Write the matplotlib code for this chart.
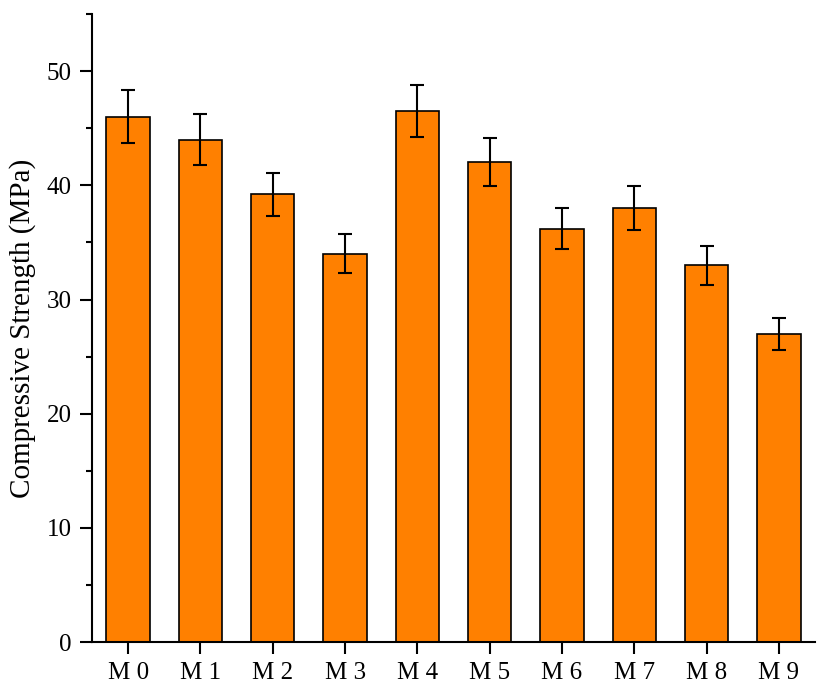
import matplotlib.pyplot as plt
from matplotlib.ticker import MultipleLocator

mixes = ["M 0", "M 1", "M 2", "M 3", "M 4", "M 5", "M 6", "M 7", "M 8", "M 9"]
strength = [46.0, 44.0, 39.2, 34.0, 46.5, 42.0, 36.2, 38.0, 33.0, 27.0]
strength_err = [2.3, 2.2, 1.9, 1.7, 2.3, 2.1, 1.8, 1.9, 1.7, 1.4]

plt.rcParams["font.family"] = ["Liberation Serif", "DejaVu Serif"]

fig = plt.figure(figsize=(8.26, 6.98), dpi=100)
ax = fig.add_axes([0.1114, 0.080, 0.8753, 0.900])

x = range(len(mixes))
ax.bar(x, strength, width=0.6, color="#FF8000", edgecolor="black", linewidth=1.2,
       yerr=strength_err, capsize=5,
       error_kw=dict(elinewidth=1.5, capthick=1.5, ecolor="black"))

ax.set_xlim(-0.5, 9.5)
ax.set_ylim(0, 55)
ax.set_xticks(list(x))
ax.set_xticklabels(mixes)
ax.yaxis.set_major_locator(MultipleLocator(10))
ax.yaxis.set_minor_locator(MultipleLocator(5))
ax.set_ylabel("Compressive Strength (MPa)", fontsize=21, labelpad=8)

for side in ["top", "right"]:
    ax.spines[side].set_visible(False)
for side in ["left", "bottom"]:
    ax.spines[side].set_linewidth(1.5)

ax.tick_params(axis="both", which="major", direction="out", length=8.5, width=1.5,
               labelsize=18, pad=6)
ax.tick_params(axis="y", which="minor", direction="out", length=4.5, width=1.5)

fig.savefig("out.png", dpi=100)
